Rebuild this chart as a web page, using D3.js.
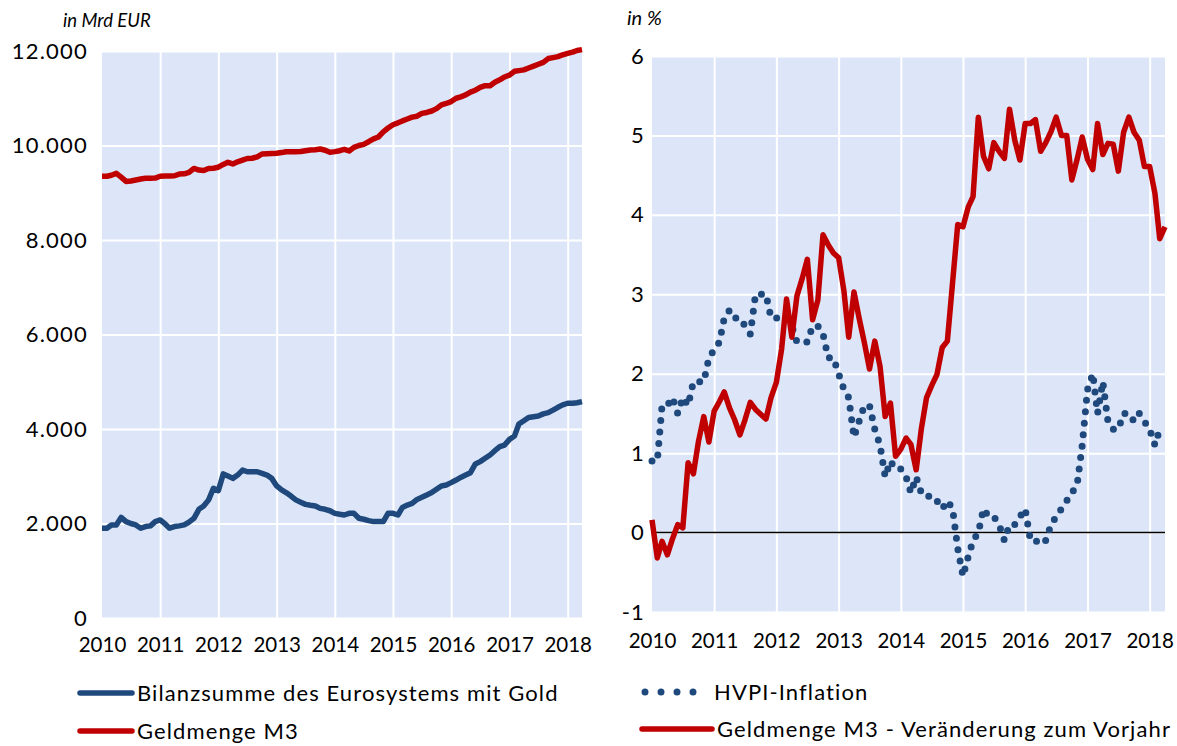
<!DOCTYPE html>
<html>
<head>
<meta charset="utf-8">
<script src="https://cdn.jsdelivr.net/npm/d3@7"></script>
<style>
    body { margin: 0; background: #fff; }
    svg text { font-family: Lato, "Open Sans", sans-serif; fill: #000; }
</style>
</head>
<body>
<div id="chart"></div>
<script>
// Monatswerte Jan 2010 - Apr 2018
var startMonth = new Date(2010, 0, 1);
var monthCount = 100;

// in Mrd EUR
var bilanzsumme = [
    1900, 1900, 1970, 1970, 2130, 2040, 2000, 1970, 1900, 1935, 1950, 2040,
    2075, 1990, 1900, 1935, 1950, 1970, 2030, 2110, 2300, 2370, 2500, 2745,
    2695, 3050, 3005, 2955, 3025, 3130, 3095, 3095, 3095, 3060, 3025, 2955,
    2795, 2710, 2655, 2580, 2500, 2450, 2405, 2385, 2370, 2320, 2300, 2270,
    2215, 2195, 2180, 2215, 2215, 2110, 2090, 2060, 2040, 2040, 2040, 2215,
    2215, 2180, 2340, 2390, 2425, 2510, 2555, 2605, 2655, 2725, 2795, 2815,
    2865, 2920, 2975, 3025, 3075, 3260, 3310, 3380, 3450, 3540, 3625, 3660,
    3780, 3850, 4105, 4175, 4245, 4260, 4275, 4320, 4345, 4400, 4460, 4510,
    4545, 4545, 4555, 4580
];
var geldmengeM3 = [
    9350, 9350, 9370, 9410, 9330, 9240, 9250, 9270, 9290, 9305, 9305, 9310,
    9350, 9355, 9355, 9360, 9395, 9400, 9430, 9515, 9480, 9470, 9515, 9520,
    9540, 9600, 9645, 9610, 9655, 9690, 9725, 9730, 9760, 9820, 9825, 9830,
    9835, 9850, 9868, 9870, 9870, 9872, 9890, 9905, 9910, 9925, 9900, 9855,
    9870, 9890, 9918, 9885, 9960, 10000, 10025, 10080, 10140, 10180, 10290, 10370,
    10440, 10480, 10520, 10560, 10600, 10620, 10680, 10700, 10730, 10780, 10860, 10890,
    10930, 11000, 11030, 11070, 11130, 11170, 11230, 11265, 11266, 11340, 11390, 11450,
    11490, 11570, 11585, 11600, 11640, 11680, 11720, 11760, 11840, 11860, 11880, 11920,
    11950, 11975, 12010, 12030
];

// in %
var hvpiInflation = [
    0.9, 0.9, 1.6, 1.6, 1.7, 1.5, 1.7, 1.6, 1.9, 1.9, 1.9, 2.2,
    2.3, 2.4, 2.7, 2.8, 2.7, 2.7, 2.6, 2.5, 3.0, 3.0, 3.0, 2.7,
    2.7, 2.7, 2.7, 2.6, 2.4, 2.4, 2.4, 2.6, 2.6, 2.5, 2.2, 2.2,
    2.0, 1.8, 1.7, 1.2, 1.4, 1.6, 1.6, 1.3, 1.1, 0.7, 0.9, 0.8,
    0.8, 0.7, 0.5, 0.7, 0.5, 0.5, 0.4, 0.4, 0.3, 0.4, 0.3, -0.2,
    -0.55, -0.3, -0.1, 0.0, 0.3, 0.2, 0.2, 0.1, -0.1, 0.1, 0.1, 0.2,
    0.3, -0.1, -0.1, -0.15, -0.1, 0.1, 0.2, 0.3, 0.4, 0.5, 0.6, 1.1,
    1.8, 2.0, 1.5, 1.9, 1.4, 1.3, 1.3, 1.5, 1.5, 1.4, 1.5, 1.4,
    1.3, 1.1, 1.3
];
var m3Veraenderung = [
    0.16, -0.32, -0.11, -0.28, -0.08, 0.10, 0.06, 0.88, 0.74, 1.15, 1.46, 1.14,
    1.53, 1.65, 1.77, 1.57, 1.42, 1.23, 1.42, 1.64, 1.55, 1.49, 1.43, 1.70,
    1.89, 2.31, 2.94, 2.46, 2.98, 3.20, 3.44, 2.68, 2.93, 3.75, 3.62, 3.52,
    3.46, 3.04, 2.46, 3.03, 2.70, 2.39, 2.06, 2.41, 2.09, 1.46, 1.63, 0.96,
    1.05, 1.19, 1.11, 0.79, 1.30, 1.70, 1.85, 1.99, 2.33, 2.41, 3.15, 3.88,
    3.85, 4.10, 4.23, 5.23, 4.74, 4.58, 4.91, 4.80, 4.71, 5.33, 4.94, 4.69,
    5.15, 5.15, 5.20, 4.80, 4.91, 5.05, 5.23, 5.00, 5.00, 4.44, 4.70, 4.98,
    4.70, 4.57, 5.15, 4.76, 4.90, 4.89, 4.55, 5.04, 5.23, 5.04, 4.94, 4.61,
    4.61, 4.27, 3.70, 3.85
];

var yearLabels = [2010, 2011, 2012, 2013, 2014, 2015, 2016, 2017, 2018];
var leftTicks = [0, 2000, 4000, 6000, 8000, 10000, 12000];
var rightTicks = [-1, 0, 1, 2, 3, 4, 5, 6];

var BLUE = "#1f497d", RED = "#c00000", BG = "#dce6f8";

var de = d3.formatLocale({ decimal: ",", thousands: ".", grouping: [3], currency: ["", " €"], minus: "-" });

document.addEventListener("DOMContentLoaded", function(event) {
    var svg = d3.select("#chart").append("svg")
        .attr("width", 1177)
        .attr("height", 746);

    drawPanel(svg, {
        left: 102, right: 582, top: 51, bottom: 618,
        domain: [0, 12000], ticks: leftTicks, format: de.format(","),
        labelPad: 14, xPad: 19,
        title: "in Mrd EUR", titleX: 63, titleY: 27, titleSize: 18.5,
        series: [
            { values: bilanzsumme, color: BLUE },
            { values: geldmengeM3, color: RED }
        ]
    });

    drawPanel(svg, {
        left: 652, right: 1165, top: 56, bottom: 612,
        domain: [-1, 6], ticks: rightTicks, format: de.format("d"),
        labelPad: 7, xPad: 21, zeroLine: true,
        title: "in %", titleX: 627, titleY: 25, titleSize: 20,
        series: [
            { values: hvpiInflation, color: BLUE, dotted: true },
            { values: m3Veraenderung, color: RED }
        ]
    });

    drawLegend(svg);
});

function monthDate(i) {
    return d3.timeMonth.offset(startMonth, i);
}

function drawPanel(svg, opt) {
    var x = d3.scaleTime()
        .domain([startMonth, monthDate(monthCount - 1)])
        .range([opt.left, opt.right]);
    var y = d3.scaleLinear()
        .domain(opt.domain)
        .range([opt.bottom, opt.top]);
    var width = opt.right - opt.left;
    var height = opt.bottom - opt.top;
    var years = yearLabels.map(function(yr) { return new Date(yr, 0, 1); });

    var g = svg.append("g");

    g.append("rect")
        .attr("x", opt.left).attr("y", opt.top)
        .attr("width", width).attr("height", height)
        .attr("fill", BG);

    // gridlines
    g.append("g")
        .attr("transform", "translate(" + opt.left + ",0)")
        .call(d3.axisLeft(y).tickValues(opt.ticks).tickSize(-width).tickFormat(""))
        .call(function(a) { a.select(".domain").remove(); })
        .selectAll("line").attr("stroke", "#fff").attr("stroke-width", 2);

    g.append("g")
        .attr("transform", "translate(0," + opt.top + ")")
        .call(d3.axisBottom(x).tickValues(years.slice(1)).tickSize(height).tickFormat(""))
        .call(function(a) { a.select(".domain").remove(); })
        .selectAll("line").attr("stroke", "#fff").attr("stroke-width", 2);

    if (opt.zeroLine) {
        g.append("line")
            .attr("x1", opt.left).attr("x2", opt.right)
            .attr("y1", y(0)).attr("y2", y(0))
            .attr("stroke", "#000").attr("stroke-width", 1.5);
    }

    // tick labels
    var yAxis = g.append("g")
        .attr("transform", "translate(" + opt.left + ",0)")
        .call(d3.axisLeft(y).tickValues(opt.ticks).tickFormat(opt.format).tickSize(0).tickPadding(opt.labelPad));
    yAxis.select(".domain").remove();
    yAxis.selectAll("text").attr("font-size", 22).attr("letter-spacing", 1.2).attr("font-family", null);

    var xAxis = g.append("g")
        .attr("transform", "translate(0," + opt.bottom + ")")
        .call(d3.axisBottom(x).tickValues(years).tickFormat(d3.timeFormat("%Y")).tickSize(0).tickPadding(opt.xPad));
    xAxis.select(".domain").remove();
    xAxis.selectAll("text").attr("font-size", 20.5).attr("font-family", null);

    g.append("text")
        .attr("x", opt.titleX).attr("y", opt.titleY)
        .attr("font-size", opt.titleSize).attr("font-style", "italic")
        .text(opt.title);

    var line = d3.line()
        .defined(function(d) { return d != null; })
        .x(function(d, i) { return x(monthDate(i)); })
        .y(function(d) { return y(d); });

    opt.series.forEach(function(s) {
        var p = g.append("path")
            .datum(s.values)
            .attr("fill", "none")
            .attr("stroke", s.color)
            .attr("stroke-linejoin", "round")
            .attr("d", line);
        if (s.dotted) {
            p.attr("stroke-width", 7)
                .attr("stroke-linecap", "round")
                .attr("stroke-dasharray", "0 11.5");
        } else {
            p.attr("stroke-width", 5.5);
        }
    });
}

function drawLegend(svg) {
    var items = [
        { name: "Bilanzsumme des Eurosystems mit Gold", color: BLUE, x1: 80, x2: 132, y: 693 },
        { name: "Geldmenge M3", color: RED, x1: 80, x2: 132, y: 731 },
        { name: "HVPI-Inflation", color: BLUE, x1: 645, x2: 709, y: 692, dotted: true },
        { name: "Geldmenge M3 - Veränderung zum Vorjahr", color: RED, x1: 642, x2: 712, y: 729 }
    ];
    var g = svg.append("g");
    items.forEach(function(d) {
        var l = g.append("line")
            .attr("x1", d.x1).attr("x2", d.x2)
            .attr("y1", d.y).attr("y2", d.y)
            .attr("stroke", d.color);
        if (d.dotted) {
            l.attr("stroke-width", 7).attr("stroke-linecap", "round").attr("stroke-dasharray", "0 16");
        } else {
            l.attr("stroke-width", 5.5).attr("stroke-linecap", "round");
        }
        g.append("text")
            .attr("x", d.x2 + 5)
            .attr("y", d.y)
            .attr("dy", "0.35em")
            .attr("font-size", 22)
            .attr("letter-spacing", 1.1)
            .text(d.name);
    });
}
</script>
</body>
</html>
